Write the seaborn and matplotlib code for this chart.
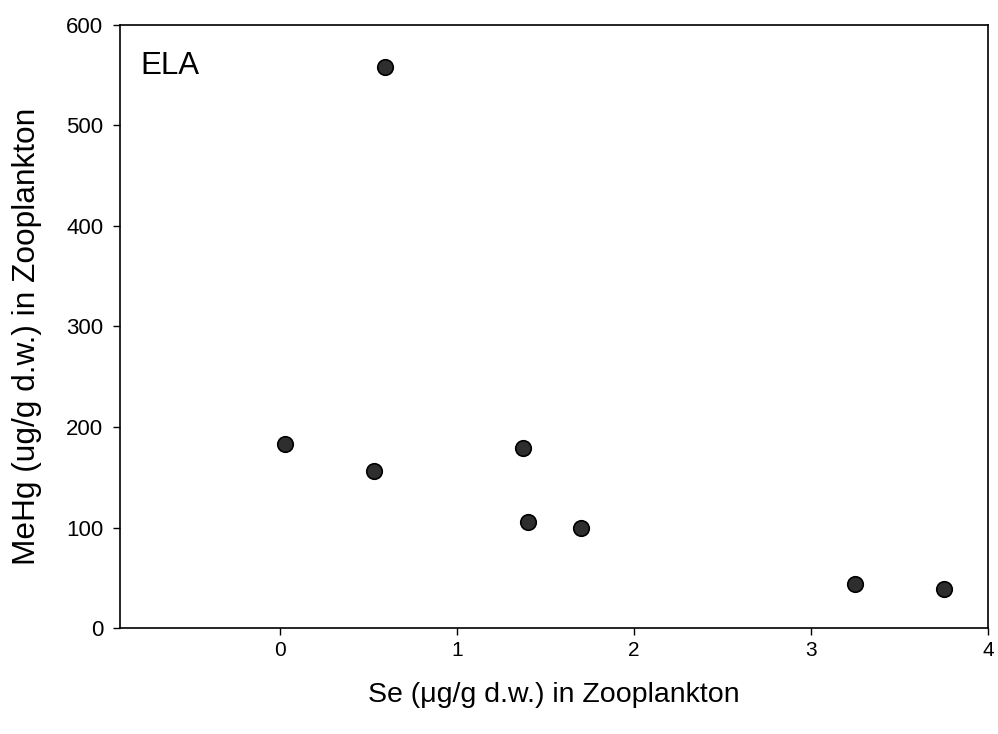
import matplotlib
matplotlib.use("Agg")
import matplotlib.pyplot as plt
import seaborn as sns
import pandas as pd

se_values = [0.03, 0.59, 0.53, 1.37, 1.40, 1.70, 3.25, 3.75]
mehg_values = [183, 558, 156, 179, 105, 100, 44, 39]
x_ticks = [0, 1, 2, 3, 4]
y_ticks = [0, 100, 200, 300, 400, 500, 600]

df = pd.DataFrame({"Se": se_values, "MeHg": mehg_values})

sns.set_theme(style="ticks")
plt.rcParams["font.family"] = ["Liberation Sans", "DejaVu Sans"]
plt.rcParams["text.color"] = "black"
plt.rcParams["axes.labelcolor"] = "black"

fig = plt.figure(figsize=(9.98, 7.34), dpi=100)
ax = fig.add_axes([0.1202, 0.1444, 0.8698, 0.8216])

sns.scatterplot(data=df, x="Se", y="MeHg", ax=ax, s=125, color="#2e2e2e",
                edgecolor="black", linewidth=1.2, zorder=3)

ax.set_xlim(-0.905, 4.0)
ax.set_ylim(0, 600)
ax.set_xticks(x_ticks)
ax.set_yticks(y_ticks)
ax.tick_params(direction="out", length=5, width=1, colors="black")
ax.tick_params(axis="x", labelsize=15, pad=4)
ax.tick_params(axis="y", labelsize=16, pad=7)
for sp in ax.spines.values():
    sp.set_visible(True)
    sp.set_color("black")
    sp.set_linewidth(1.2)

ax.set_xlabel("Se (\u03bcg/g d.w.) in Zooplankton", fontsize=20.5, labelpad=16)
ax.set_ylabel("MeHg (ug/g d.w.) in Zooplankton", fontsize=22.8)
ax.yaxis.set_label_coords(-0.09, 0.483)
ax.text(0.023, 0.957, "ELA", transform=ax.transAxes, fontsize=22.5,
        va="top", ha="left")

fig.savefig("out.png", dpi=100)
